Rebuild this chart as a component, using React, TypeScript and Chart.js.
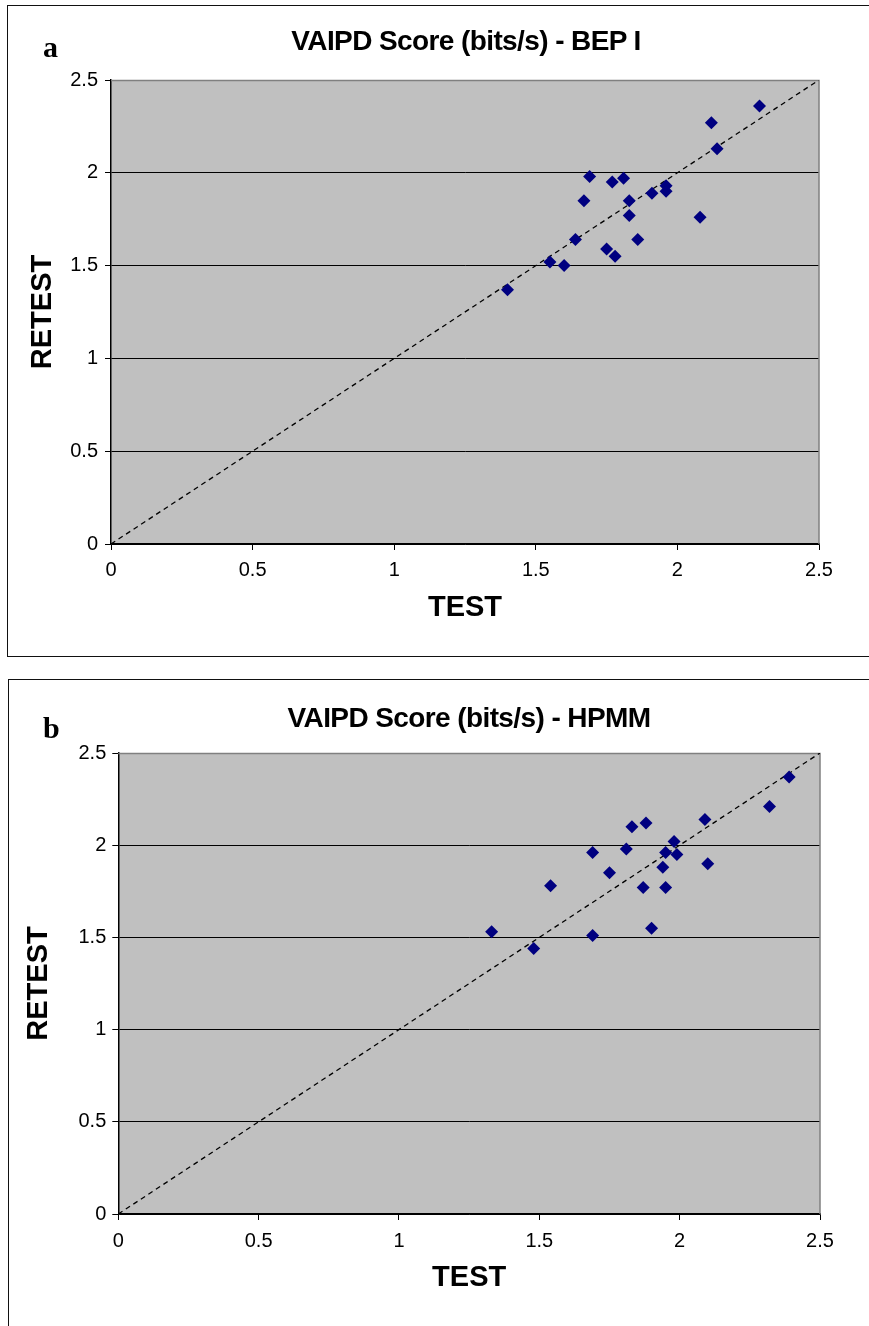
import React, { useEffect, useRef } from "react";
import { Chart, registerables } from "chart.js";

Chart.register(...registerables);

// ---- data ----
const axisMin = 0;
const axisMax = 2.5;
const axisStep = 0.5;
const identityLine = [0, 2.5];

const bepTest = [2.29, 2.12, 2.14, 1.69, 1.77, 1.81, 1.67, 1.83, 1.91, 1.96, 1.96, 1.83, 2.08, 1.64, 1.86, 1.75, 1.78, 1.55, 1.6, 1.4];
const bepRetest = [2.36, 2.27, 2.13, 1.98, 1.95, 1.97, 1.85, 1.85, 1.89, 1.93, 1.9, 1.77, 1.76, 1.64, 1.64, 1.59, 1.55, 1.52, 1.5, 1.37];

const hpmmTest = [2.39, 2.32, 2.09, 1.88, 1.83, 1.98, 1.69, 1.81, 1.95, 1.99, 2.1, 1.94, 1.75, 1.54, 1.87, 1.95, 1.9, 1.33, 1.69, 1.48];
const hpmmRetest = [2.37, 2.21, 2.14, 2.12, 2.1, 2.02, 1.96, 1.98, 1.96, 1.95, 1.9, 1.88, 1.85, 1.78, 1.77, 1.77, 1.55, 1.53, 1.51, 1.44];

const panelTitles = ["VAIPD Score (bits/s) - BEP I", "VAIPD Score (bits/s) - HPMM"];
const panelLetters = ["a", "b"];
const xAxisTitle = "TEST";
const yAxisTitle = "RETEST";

const SANS = "'Liberation Sans', Arial, sans-serif";
const SERIF = "'Liberation Serif', 'Times New Roman', serif";

type PanelLayout = {
  canvasTop: number;
  canvasHeight: number;
  padLeft: number;
  padRight: number;
  padTop: number;
  padBottom: number;
  yWidth: number;
  xHeight: number;
  yTickPad: number;
  xTickPad: number;
};

const plotFrame = {
  id: "plotFrame",
  beforeDraw(chart: any) {
    const { ctx, chartArea: a } = chart;
    ctx.save();
    ctx.fillStyle = "#C0C0C0";
    ctx.fillRect(a.left, a.top, a.right - a.left, a.bottom - a.top);
    ctx.restore();
  },
  beforeDatasetsDraw(chart: any) {
    const { ctx, chartArea: a } = chart;
    ctx.save();
    ctx.strokeStyle = "#808080";
    ctx.lineWidth = 1.5;
    ctx.beginPath();
    ctx.moveTo(a.left, a.top + 0.5);
    ctx.lineTo(a.right, a.top + 0.5);
    ctx.lineTo(a.right, a.bottom);
    ctx.stroke();
    ctx.restore();
  },
};

const fmtTick = (v: any) => String(Number(v));

function ScatterPanel(props: { xs: number[]; ys: number[]; layout: PanelLayout }) {
  const ref = useRef<HTMLCanvasElement | null>(null);
  const { xs, ys, layout } = props;

  useEffect(() => {
    if (!ref.current) return;
    const points = xs.map((x, i) => ({ x, y: ys[i] }));
    const diag = identityLine.map((v) => ({ x: v, y: v }));
    const chart = new Chart(ref.current, {
      type: "scatter",
      data: {
        datasets: [
          {
            data: points,
            pointStyle: "rectRot",
            pointRadius: 6.5,
            pointBorderWidth: 0,
            backgroundColor: "#000080",
            borderColor: "#000080",
            order: 0,
          },
          {
            data: diag,
            showLine: true,
            pointRadius: 0,
            borderColor: "#000000",
            borderWidth: 1.3,
            borderDash: [5, 4],
            order: 1,
          } as any,
        ],
      },
      options: {
        animation: false,
        responsive: false,
        devicePixelRatio: 1,
        events: [],
        layout: {
          padding: {
            left: layout.padLeft,
            right: layout.padRight,
            top: layout.padTop,
            bottom: layout.padBottom,
          },
        },
        plugins: {
          legend: { display: false },
          tooltip: { enabled: false },
          title: { display: false },
        },
        scales: {
          x: {
            type: "linear",
            min: axisMin,
            max: axisMax,
            afterFit: (s: any) => {
              s.height = layout.xHeight;
            },
            ticks: {
              stepSize: axisStep,
              color: "#000",
              padding: layout.xTickPad,
              maxRotation: 0,
              callback: fmtTick,
              font: { family: SANS, size: 20 },
            },
            grid: {
              drawOnChartArea: false,
              drawTicks: true,
              tickLength: 6,
              tickColor: "#000",
              color: "#000",
            },
            border: { display: true, color: "#000", width: 1.5 },
            title: {
              display: true,
              text: xAxisTitle,
              color: "#000",
              padding: 0,
              font: { family: SANS, size: 29, weight: "bold" },
            },
          },
          y: {
            type: "linear",
            min: axisMin,
            max: axisMax,
            afterFit: (s: any) => {
              s.width = layout.yWidth;
            },
            ticks: {
              stepSize: axisStep,
              color: "#000",
              padding: layout.yTickPad,
              callback: fmtTick,
              font: { family: SANS, size: 20 },
            },
            grid: {
              drawOnChartArea: true,
              drawTicks: true,
              tickLength: 6,
              tickColor: "#000",
              color: (c: any) => (c.tick && c.tick.value === axisMax ? "rgba(0,0,0,0)" : "#000"),
              lineWidth: 1,
            },
            border: { display: true, color: "#000", width: 1.5 },
            title: {
              display: true,
              text: yAxisTitle,
              color: "#000",
              padding: 0,
              font: { family: SANS, size: 29, weight: "bold" },
            },
          },
        },
      } as any,
      plugins: [plotFrame],
    });
    return () => chart.destroy();
  }, [xs, ys, layout]);

  return (
    <canvas
      ref={ref}
      width={869}
      height={layout.canvasHeight}
      style={{
        position: "absolute",
        left: 0,
        top: layout.canvasTop,
        width: 869,
        height: layout.canvasHeight,
      }}
    />
  );
}

const layoutA: PanelLayout = {
  canvasTop: 0,
  canvasHeight: 660,
  padLeft: 25.6,
  padRight: 50,
  padTop: 80,
  padBottom: 34.6,
  yWidth: 85.4,
  xHeight: 81.4,
  yTickPad: 7,
  xTickPad: 8,
};

const layoutB: PanelLayout = {
  canvasTop: 670,
  canvasHeight: 656,
  padLeft: 21.1,
  padRight: 49,
  padTop: 83,
  padBottom: 30.9,
  yWidth: 97.2,
  xHeight: 81.1,
  yTickPad: 6,
  xTickPad: 9,
};

function PanelText(props: { title: string; letter: string; titleTop: number; letterTop: number; centerX: number }) {
  return (
    <>
      <div
        style={{
          position: "absolute",
          left: props.centerX,
          top: props.titleTop,
          transform: "translateX(-50%)",
          whiteSpace: "nowrap",
          fontFamily: SANS,
          fontWeight: "bold",
          fontSize: 28,
          lineHeight: "28px",
          letterSpacing: "-0.6px",
          color: "#000",
        }}
      >
        {props.title}
      </div>
      <div
        style={{
          position: "absolute",
          left: 43,
          top: props.letterTop,
          fontFamily: SERIF,
          fontWeight: "bold",
          fontSize: 30,
          lineHeight: "30px",
          color: "#000",
        }}
      >
        {props.letter}
      </div>
    </>
  );
}

export default function App() {
  return (
    <div
      style={{
        position: "absolute",
        left: 0,
        top: 0,
        width: 869,
        height: 1326,
        overflow: "hidden",
        background: "#fff",
      }}
    >
      <div
        style={{
          position: "absolute",
          left: 7,
          top: 5,
          width: 900,
          height: 650,
          border: "1.5px solid #111",
        }}
      />
      <div
        style={{
          position: "absolute",
          left: 8,
          top: 679,
          width: 900,
          height: 700,
          border: "1.5px solid #111",
        }}
      />
      <ScatterPanel xs={bepTest} ys={bepRetest} layout={layoutA} />
      <ScatterPanel xs={hpmmTest} ys={hpmmRetest} layout={layoutB} />
      <PanelText title={panelTitles[0]} letter={panelLetters[0]} titleTop={27} letterTop={32} centerX={466} />
      <PanelText title={panelTitles[1]} letter={panelLetters[1]} titleTop={704} letterTop={713} centerX={469} />
    </div>
  );
}
